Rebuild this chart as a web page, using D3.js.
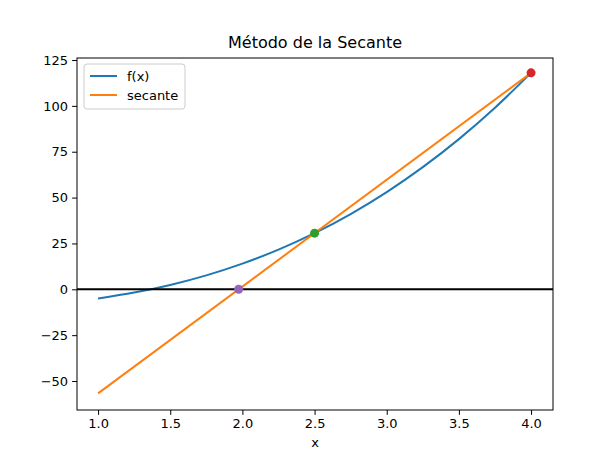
<!DOCTYPE html>
<html><head><meta charset="utf-8">
<script src="https://cdn.jsdelivr.net/npm/d3@7"></script>
<style>body{margin:0;background:#fff}text{font-family:"DejaVu Sans",sans-serif}</style>
</head><body><svg id="c" width="614" height="460"></svg>
<script>
const fx = [1,1.25,1.5,1.75,2,2.25,2.5,2.75,3,3.25,3.5,3.75,4];
const fy = [-5,-1.797,2.375,7.609,14,21.64,30.625,41.05,53,66.58,81.875,98.98,118];
const secX = [1,4];
const secY = [-56.75,118];
const pts = [{x:2.5,y:30.625,c:"#2ca02c"},{x:4,y:118,c:"#d62728"},{x:1.974,y:0,c:"#9467bd"}];
const xTicks = [1.0,1.5,2.0,2.5,3.0,3.5,4.0];
const yTicks = [-50,-25,0,25,50,75,100,125];

const L=77,R=553,T=58,B=410;
const svg=d3.select("#c");
const x=d3.scaleLinear().domain([0.854,4.152]).range([L,R]);
const y=d3.scaleLinear().domain([-65.8,126.1]).range([B,T]);
const g=svg.append("g");
const line=d3.line().x(d=>x(d[0])).y(d=>y(d[1]));
g.append("path").attr("d",line.curve(d3.curveMonotoneX)(fx.map((v,i)=>[v,fy[i]]))).attr("fill","none").attr("stroke","#1f77b4").attr("stroke-width",2);
g.append("path").attr("d",d3.line().x(d=>x(d[0])).y(d=>y(d[1]))(secX.map((v,i)=>[v,secY[i]]))).attr("fill","none").attr("stroke","#ff7f0e").attr("stroke-width",2);
g.append("line").attr("x1",L).attr("x2",R).attr("y1",y(0)).attr("y2",y(0)).attr("stroke","#000").attr("stroke-width",2);
g.selectAll("circle").data(pts).join("circle").attr("cx",d=>x(d.x)).attr("cy",d=>y(d.y)).attr("r",4.5).attr("fill",d=>d.c);

const xa=svg.append("g").attr("transform",`translate(0,${B})`).call(d3.axisBottom(x).tickValues(xTicks).tickFormat(d3.format(".1f")).tickSizeOuter(0).tickSize(4.9).tickPadding(4));
const ya=svg.append("g").attr("transform",`translate(${L},0)`).call(d3.axisLeft(y).tickValues(yTicks).tickFormat(d=>d<0?"\u2212"+(-d):d).tickSizeOuter(0).tickSize(4.9).tickPadding(4));
[xa,ya].forEach(a=>{a.select(".domain").remove();a.selectAll("text").attr("font-size",13).attr("fill","#000").attr("font-family","DejaVu Sans");a.selectAll("line").attr("stroke","#000");});
svg.append("rect").attr("x",L).attr("y",T).attr("width",R-L).attr("height",B-T).attr("fill","none").attr("stroke","#000").attr("stroke-width",1);
svg.append("text").attr("x",(L+R)/2).attr("y",T-10).attr("text-anchor","middle").attr("font-size",16).text("Método de la Secante");
svg.append("text").attr("x",(L+R)/2).attr("y",447).attr("text-anchor","middle").attr("font-size",13).text("x");

const lg=svg.append("g").attr("transform","translate(84,64)");
lg.append("rect").attr("width",101).attr("height",45).attr("rx",3).attr("fill","#fff").attr("fill-opacity",0.8).attr("stroke","#ccc");
[["f(x)","#1f77b4"],["secante","#ff7f0e"]].forEach((d,i)=>{
 lg.append("line").attr("x1",6).attr("x2",33).attr("y1",12+i*19).attr("y2",12+i*19).attr("stroke",d[1]).attr("stroke-width",2);
 lg.append("text").attr("x",43).attr("y",17+i*19).attr("font-size",13).text(d[0]);
});
</script></body></html>
